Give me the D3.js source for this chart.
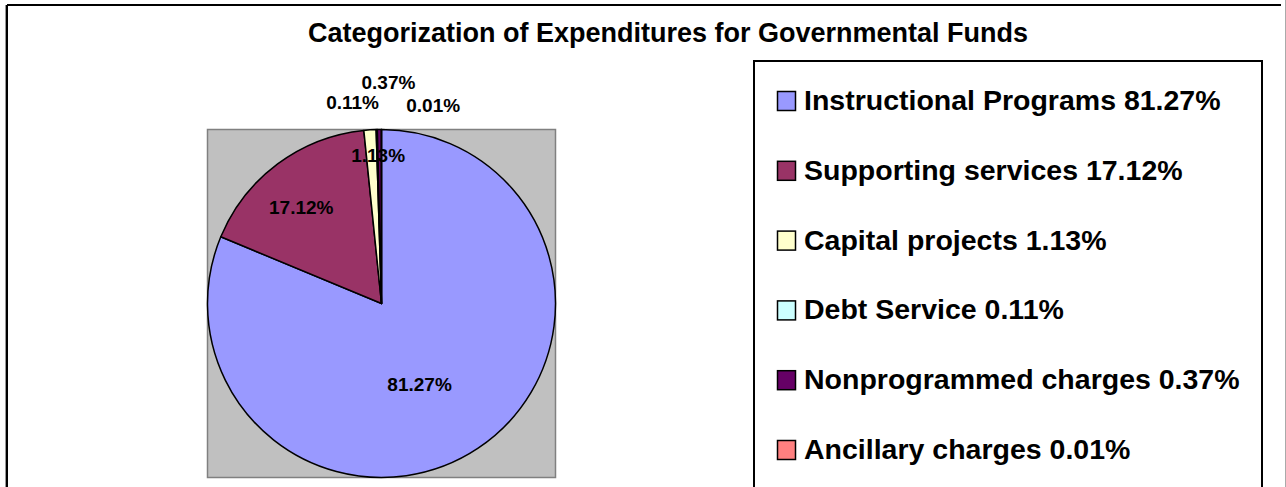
<!DOCTYPE html>
<html>
<head>
<meta charset="utf-8">
<script src="https://cdn.jsdelivr.net/npm/d3@7"></script>
<style>
  body { margin: 0; background: #fff; }
  text { font-family: "Liberation Sans", Arial, sans-serif; font-weight: bold; fill: #000; }
</style>
</head>
<body>
<div id="chart"></div>
<script>
// chart data
var categories = ["Instructional Programs", "Supporting services", "Capital projects",
                  "Debt Service", "Nonprogrammed charges", "Ancillary charges"];
var percents = [81.27, 17.12, 1.13, 0.11, 0.37, 0.01];
var colors = ["#9999FF", "#993366", "#FFFFCC", "#CCFFFF", "#660066", "#FF8080"];
var title = "Categorization of Expenditures for Governmental Funds";

// where excel dropped the slice labels: radius (fraction of pie radius) and angle shift in degrees
var labelPlace = [[0.515, 8.6], [0.72, -3.2], [0.853, 2.5], [1.17, -6.6], [1.27, 2.5], [1.18, 14.6]];

var width = 1286, height = 487;

var svg = d3.select("#chart")
    .append("svg")
    .attr("width", width)
    .attr("height", height);

// outer chart frame
svg.append("line").attr("x1", 7).attr("y1", 5).attr("x2", 1281).attr("y2", 5)
    .attr("stroke", "#000").attr("stroke-width", 2);
svg.append("line").attr("x1", 7).attr("y1", 5).attr("x2", 7).attr("y2", height)
    .attr("stroke", "#000").attr("stroke-width", 2);
svg.append("line").attr("x1", 5.5).attr("y1", 5).attr("x2", 5.5).attr("y2", height)
    .attr("stroke", "#999").attr("stroke-width", 1);
svg.append("line").attr("x1", 1285.5).attr("y1", 0).attr("x2", 1285.5).attr("y2", height)
    .attr("stroke", "#aaa").attr("stroke-width", 1);

// title
svg.append("text")
    .attr("x", 668)
    .attr("y", 41.5)
    .attr("text-anchor", "middle")
    .style("font-size", "27px")
    .text(title);

// plot area behind the pie
var plot = {x: 207.5, y: 129.5, w: 348, h: 348};
svg.append("rect")
    .attr("x", plot.x).attr("y", plot.y)
    .attr("width", plot.w).attr("height", plot.h)
    .attr("fill", "#C0C0C0")
    .attr("stroke", "#808080")
    .attr("stroke-width", 1.5);

var radius = plot.h / 2;
var cx = plot.x + plot.w / 2, cy = plot.y + plot.h / 2;

var pie = d3.pie().sort(null).value(function (d) { return d; });
var arcs = pie(percents);
var arc = d3.arc().innerRadius(0).outerRadius(radius);

var g = svg.append("g").attr("transform", "translate(" + cx + "," + cy + ")");

g.selectAll("path.slice")
    .data(arcs)
    .enter()
    .append("path")
    .attr("class", "slice")
    .attr("d", arc)
    .attr("fill", function (d, i) { return colors[i]; })
    .attr("stroke", "#000")
    .attr("stroke-width", 1.5)
    .attr("stroke-linejoin", "round");

// percentage labels
g.selectAll("text.lbl")
    .data(arcs)
    .enter()
    .append("text")
    .attr("class", "lbl")
    .attr("transform", function (d, i) {
        var a = (d.startAngle + d.endAngle) / 2 + labelPlace[i][1] * Math.PI / 180;
        var r = radius * labelPlace[i][0];
        return "translate(" + (r * Math.sin(a)) + "," + (-r * Math.cos(a)) + ")";
    })
    .attr("text-anchor", "middle")
    .attr("dy", "0.36em")
    .style("font-size", "19px")
    .text(function (d, i) { return percents[i].toFixed(2) + "%"; });

// legend
var legendBox = {x: 754, y: 61, w: 508};
svg.append("rect")
    .attr("x", legendBox.x).attr("y", legendBox.y)
    .attr("width", legendBox.w).attr("height", height)
    .attr("fill", "#fff")
    .attr("stroke", "#000")
    .attr("stroke-width", 2);

var rowY = d3.scaleLinear().domain([0, categories.length - 1]).range([110, 459]);

var rows = svg.selectAll("g.legrow")
    .data(categories)
    .enter()
    .append("g")
    .attr("class", "legrow")
    .attr("transform", function (d, i) { return "translate(777," + rowY(i) + ")"; });

rows.append("rect")
    .attr("x", 0.5).attr("y", -18.5)
    .attr("width", 18).attr("height", 19)
    .attr("fill", function (d, i) { return colors[i]; })
    .attr("stroke", "#000")
    .attr("stroke-width", 1.5);

rows.append("text")
    .attr("x", 27)
    .attr("y", 0)
    .style("font-size", "28.5px")
    .text(function (d, i) { return d + " " + percents[i].toFixed(2) + "%"; });
</script>
</body>
</html>
